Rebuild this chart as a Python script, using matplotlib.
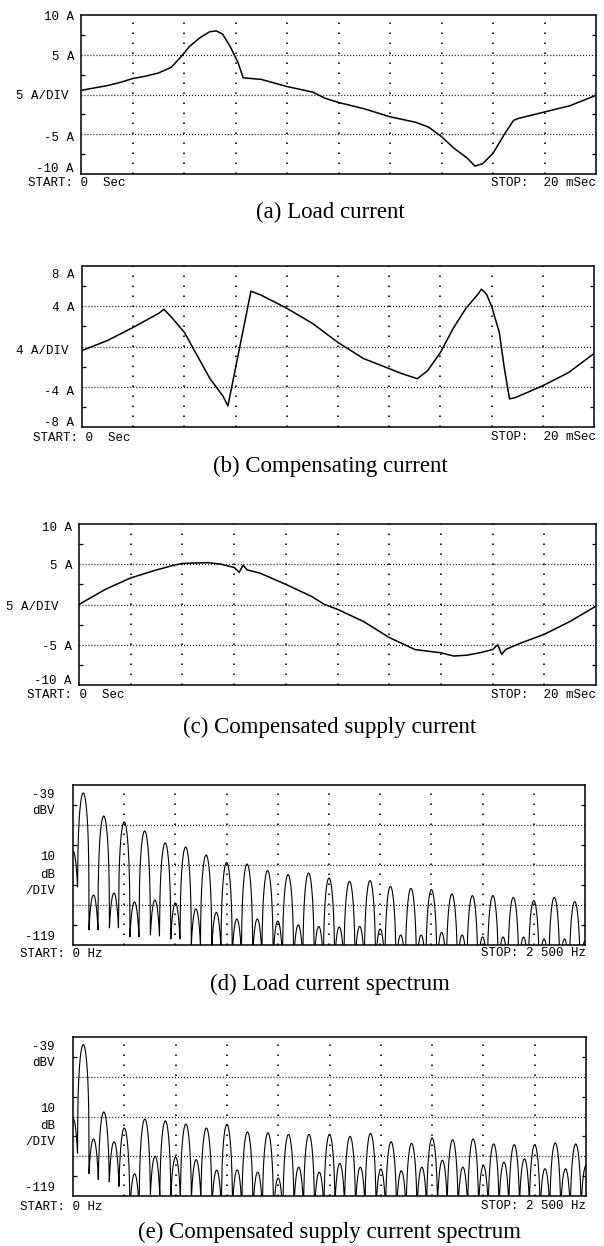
import numpy as np
import matplotlib
matplotlib.use("Agg")
import matplotlib.pyplot as plt
from matplotlib.transforms import ScaledTranslation

# ---------------- data ----------------
# (a) load current, time in ms, current in A
a_t = [0, 0.3, 1.0, 1.5, 2.0, 2.5, 3.0, 3.5, 3.9, 4.2, 4.6, 5.0, 5.25, 5.5, 5.8, 6.1, 6.3,
       7.0, 8.0, 9.0, 9.5, 10.0, 11.0, 12.0, 13.0, 13.5, 14.0, 14.5, 15.0, 15.3, 15.6, 16.0,
       16.5, 16.8, 17.0, 18.0, 19.0, 20.0]
a_i = [0.5, 0.7, 1.1, 1.5, 2.0, 2.3, 2.7, 3.4, 4.8, 6.0, 7.1, 7.9, 8.0, 7.6, 6.0, 4.0, 2.1,
       1.9, 1.0, 0.3, -0.5, -1.0, -1.8, -2.8, -3.5, -4.1, -5.3, -6.8, -8.0, -9.0, -8.7, -7.4,
       -4.7, -3.25, -3.0, -2.2, -1.4, -0.1]

# (b) compensating current
b_t = [0, 1, 2, 3, 3.2, 3.5, 4, 4.5, 5, 5.5, 5.7, 6.6, 7, 8, 9, 10, 11, 12, 12.5, 13.1,
       13.5, 14, 14.5, 15, 15.5, 15.6, 15.8, 16.0, 16.3, 16.5, 16.7, 16.9, 17, 18, 19, 20]
b_i = [-0.4, 0.6, 1.9, 3.3, 3.7, 2.9, 1.4, -0.9, -3.2, -4.9, -5.9, 5.5, 5.1, 3.8, 2.3, 0.4,
       -1.2, -2.2, -2.7, -3.2, -2.4, -0.6, 1.8, 3.8, 5.3, 5.7, 5.2, 4.0, 1.4, -2.2, -5.2,
       -5.1, -5.0, -3.9, -2.6, -0.7]

# (c) compensated supply current
c_t = [0, 1, 2, 3, 3.7, 4, 5, 5.5, 6, 6.2, 6.35, 6.5, 7, 8, 9, 9.5, 10, 11, 12, 13, 14,
       14.5, 15, 15.5, 16, 16.2, 16.35, 16.5, 17, 18, 19, 20]
c_i = [0, 1.85, 3.3, 4.3, 4.9, 5.1, 5.2, 5.0, 4.6, 4.0, 4.9, 4.3, 3.9, 2.5, 1.0, 0.0, -0.6,
       -2.1, -4.1, -5.6, -6.0, -6.4, -6.3, -6.0, -5.6, -5.0, -6.2, -5.6, -4.9, -3.7, -2.1, -0.2]

# spectra: harmonic levels in dBV (fundamental 50 Hz)
d_dc = -72.0
d_odd = [-43, -54.5, -57.5, -62, -68, -70, -74, -77.7, -78.5, -81.8, -83.8, -83, -85.5,
         -87.2, -86.8, -89.7, -90.7, -91.3, -93.5, -94.3, -94.3, -95.2, -96.8, -95.2, -97.3]
d_even = [-94, -93, -97.5, -96.5, -98, -101, -102.7, -106, -106, -107, -109, -109.7, -110,
          -109.7, -111, -114, -114, -112.7, -114, -115, -115, -115, -116, -116, -117]

e_dc = -80.0
e_odd = [-42.8, -76.7, -84.8, -80.3, -81.2, -82.8, -84.8, -83, -86.8, -87.2, -88, -88, -88,
         -89, -87.5, -91.7, -92.5, -89.8, -90.7, -90.3, -92.8, -93.2, -93.2, -92.3, -92.8]
e_even = [-90.3, -91.7, -107.8, -99, -99.5, -100.7, -106, -105.9, -107, -110, -104.5, -107,
          -102.6, -104.5, -105.4, -106.3, -104.5, -101, -104.5, -103.7, -102, -100.3, -105.3,
          -105.3, -103.7]

f_fund = 50.0

# ---------------- layout ----------------
W, H = 604, 1246
plt.rcParams["lines.scale_dashes"] = False
fig = plt.figure(figsize=(W / 100, H / 100), dpi=100)
fig.patch.set_facecolor("white")

MONO = ["Liberation Mono", "DejaVu Sans Mono"]
SERIF = ["Liberation Serif", "DejaVu Serif"]
LBL = 9.0
CAP = 16.5


def add_axes(l, r, t, b):
    return fig.add_axes([l / W, 1 - b / H, (r - l) / W, (b - t) / H])


def style(ax, xlim, ylim, nx=10, ny=4):
    ax.set_xlim(xlim)
    ax.set_ylim(ylim)
    ax.set_xticks([])
    ax.set_yticks([])
    for s in ax.spines.values():
        s.set_linewidth(1.1)
    xs = np.linspace(xlim[0], xlim[1], nx + 1)[1:-1]
    ys = np.linspace(ylim[0], ylim[1], ny + 1)[1:-1]
    for x in xs:
        ax.axvline(x, color="k", lw=1.2, ls=(0, (1.1, 6.1)), zorder=1)
    for y in ys:
        ax.axhline(y, color="k", lw=0.9, ls=(0, (0.7, 1.45)), zorder=1)
    ax.set_yticks(np.linspace(ylim[0], ylim[1], 2 * ny + 1)[1::2], minor=True)
    ax.tick_params(which="minor", direction="in", left=True, right=True,
                   length=3, width=0.9)


def ylabels(ax, items, dx):
    tr = ax.get_yaxis_transform() + ScaledTranslation(-dx / 100, 0, fig.dpi_scale_trans)
    for val, s, extra in items:
        t2 = tr + ScaledTranslation(-extra / 100, 0, fig.dpi_scale_trans)
        ax.text(0, val, s, transform=t2, ha="right", va="center",
                family=MONO, fontsize=LBL)


def ftext(x, y, s, ha="left", family=MONO, size=LBL):
    fig.text(x / W, 1 - y / H, s, ha=ha, va="center", family=family, fontsize=size)


def spectrum(dc, odd, even, f):
    levels = [dc]
    for k in range(max(len(odd), len(even))):
        if k < len(odd):
            levels.append(odd[k])
        if k < len(even):
            levels.append(even[k])
    centers = np.arange(len(levels)) * f_fund
    out = np.full_like(f, -250.0)
    BIN = 14.0
    for fc, L in zip(centers, levels):
        x = (f - fc) / BIN
        with np.errstate(all="ignore"):
            w = np.abs(np.sinc(x) / (1 - x ** 2))
        w = np.where(np.isclose(np.abs(x), 1.0), 0.5, w)
        w = np.where(np.abs(x) < 2, w, 0.0)
        db = np.where(w > 0, L + 20 * np.log10(np.maximum(w, 1e-13)), -250.0)
        out = np.maximum(out, db)
    return out


# (a)
ax = add_axes(81, 596, 15, 174)
style(ax, (0, 20), (-10, 10))
ax.plot(a_t, a_i, color="k", lw=1.1, zorder=3)
ylabels(ax, [(9.75, "10 A", 0), (4.75, "5 A", 0), (-0.25, "5 A/DIV", 6),
             (-5.5, "-5 A", 0), (-9.4, "-10 A", 0)], 7)
ftext(28, 183, "START: 0  Sec")
ftext(596, 183, "STOP:  20 mSec", ha="right")
ftext(330, 212, "(a) Load current", ha="center", family=SERIF, size=CAP)

# (b)
ax = add_axes(82, 594, 266, 427)
style(ax, (0, 20), (-8, 8))
ax.plot(b_t, b_i, color="k", lw=1.1, zorder=3)
ylabels(ax, [(7.1, "8 A", 0), (3.8, "4 A", 0), (-0.4, "4 A/DIV", 6),
             (-4.5, "-4 A", 0), (-7.6, "-8 A", 0)], 8)
ftext(33, 438, "START: 0  Sec")
ftext(596, 437, "STOP:  20 mSec", ha="right")
ftext(330, 466, "(b) Compensating current", ha="center", family=SERIF, size=CAP)

# (c)
ax = add_axes(79, 596, 524, 685)
style(ax, (0, 20), (-10, 10))
ax.plot(c_t, c_i, color="k", lw=1.1, zorder=3)
ylabels(ax, [(9.5, "10 A", 0), (4.8, "5 A", 0), (-0.3, "5 A/DIV", 14),
             (-5.3, "-5 A", 0), (-9.5, "-10 A", 0)], 7)
ftext(27, 695, "START: 0  Sec")
ftext(596, 695, "STOP:  20 mSec", ha="right")
ftext(330, 727, "(c) Compensated supply current", ha="center", family=SERIF, size=CAP)

freq = np.arange(0, 2500.001, 0.25)

# (d)
ax = add_axes(73, 585, 785, 945)
style(ax, (0, 2500), (-119, -39))
ax.plot(freq, spectrum(d_dc, d_odd, d_even, freq), color="k", lw=0.8, zorder=3)
ylabels(ax, [(-44, "-39", 0), (-52, "dBV", 0), (-75, "10", 0), (-84, "dB", 0),
             (-92, "/DIV", 0), (-115, "-119", 0)], 18)
ftext(20, 954, "START: 0 Hz")
ftext(586, 953, "STOP: 2 500 Hz", ha="right")
ftext(330, 984, "(d) Load current spectrum", ha="center", family=SERIF, size=CAP)

# (e)
ax = add_axes(73, 586, 1037, 1196)
style(ax, (0, 2500), (-119, -39))
ax.plot(freq, spectrum(e_dc, e_odd, e_even, freq), color="k", lw=0.8, zorder=3)
ylabels(ax, [(-44, "-39", 0), (-52, "dBV", 0), (-75, "10", 0), (-84, "dB", 0),
             (-92, "/DIV", 0), (-115, "-119", 0)], 18)
ftext(20, 1207, "START: 0 Hz")
ftext(586, 1206, "STOP: 2 500 Hz", ha="right")
ftext(330, 1232, "(e) Compensated supply current spectrum", ha="center",
      family=SERIF, size=CAP)

fig.savefig("out.png", dpi=100, facecolor="white")
